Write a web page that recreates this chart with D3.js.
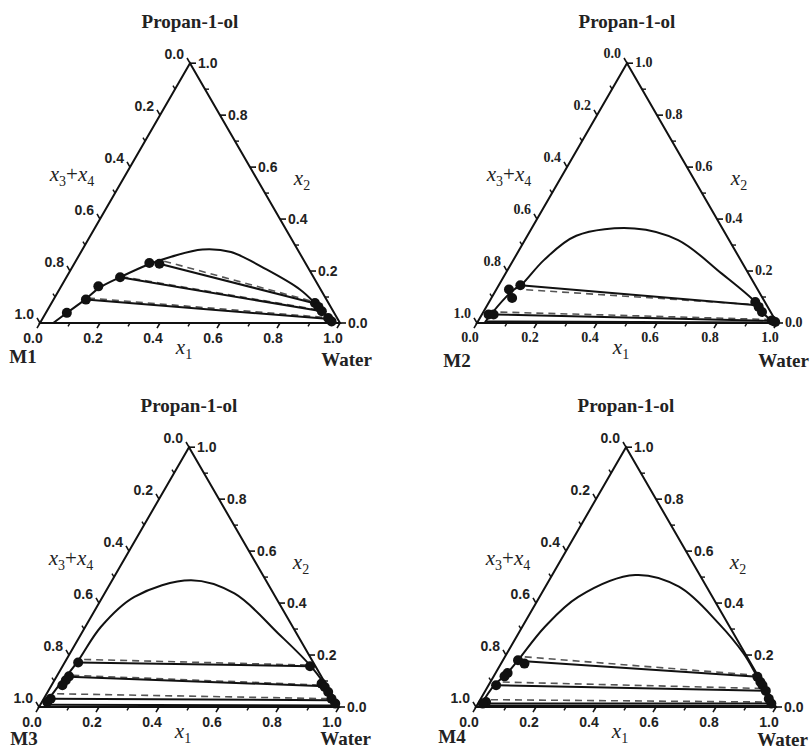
<!DOCTYPE html>
<html>
<head>
<meta charset="utf-8">
<script src="https://cdn.jsdelivr.net/npm/d3@7"></script>
<style>
  html, body { margin: 0; padding: 0; background: #fff; }
  svg { display: block; }
</style>
</head>
<body>
<svg id="chart" width="811" height="753"></svg>
<script>
// ---------------- DATA (ternary: [x1 water, x2 propan-1-ol]) ----------------
const panelNames = ["M1", "M2", "M3", "M4"];
const titleText = "Propan-1-ol";
const cornerRight = "Water";
const tickLabels = ["0.0", "0.2", "0.4", "0.6", "0.8", "1.0"];
const tickValues = [0, 0.2, 0.4, 0.6, 0.8, 1.0];
const minorValues = [0.1, 0.3, 0.5, 0.7, 0.9];

// binodal curves
const m1Binodal = [[0.044,0],[0.070,0.039],[0.105,0.090],[0.130,0.135],[0.179,0.176],[0.250,0.226],[0.310,0.255],[0.400,0.283],[0.500,0.273],[0.652,0.206],[0.802,0.129],[0.880,0.075],[0.930,0.035],[0.968,0.004]];
const m2Binodal = [[0.025,0],[0.030,0.033],[0.045,0.095],[0.060,0.130],[0.075,0.148],[0.102,0.242],[0.163,0.336],[0.343,0.364],[0.511,0.319],[0.721,0.190],[0.887,0.081],[0.946,0.030],[0.990,0.002]];
const m3Binodal = [[0.014,0.006],[0.025,0.084],[0.041,0.174],[0.052,0.308],[0.106,0.424],[0.263,0.488],[0.433,0.437],[0.656,0.283],[0.830,0.155],[0.938,0.058],[0.982,0.006]];
const m4Binodal = [[0.012,0.004],[0.019,0.084],[0.038,0.126],[0.050,0.180],[0.075,0.308],[0.129,0.424],[0.277,0.508],[0.445,0.463],[0.649,0.321],[0.790,0.205],[0.880,0.116],[0.935,0.062],[0.978,0.013]];

// experimental points
const m1Points = [[0.070,0.039],[0.108,0.090],[0.124,0.141],[0.179,0.176],[0.249,0.231],[0.284,0.228],[0.878,0.077],[0.897,0.062],[0.917,0.045],[0.951,0.019],[0.969,0.006]];
const m2Points = [[0.022,0.033],[0.039,0.033],[0.069,0.096],[0.042,0.129],[0.072,0.145],[0.887,0.081],[0.908,0.062],[0.929,0.042],[0.978,0.010],[0.992,0.004]];
const m3Points = [[0.045,0.171],[0.041,0.118],[0.038,0.103],[0.036,0.084],[0.023,0.032],[0.018,0.019],[0.825,0.157],[0.897,0.090],[0.914,0.077],[0.935,0.058],[0.959,0.032],[0.981,0.013]];
const m4Points = [[0.050,0.180],[0.078,0.167],[0.040,0.131],[0.036,0.118],[0.025,0.084],[0.024,0.019],[0.016,0.013],[0.880,0.116],[0.900,0.096],[0.913,0.084],[0.935,0.062],[0.960,0.032],[0.978,0.013]];

// experimental tie lines (solid)
const m1Ties = [[[0.284,0.228],[0.880,0.075]],[[0.179,0.176],[0.917,0.045]],[[0.108,0.090],[0.959,0.015]]];
const m2Ties = [[[0.072,0.145],[0.899,0.068]],[[0.039,0.033],[0.985,0.008]],[[0.028,0.006],[0.990,0.002]]];
const m3Ties = [[[0.045,0.171],[0.825,0.157]],[[0.042,0.116],[0.913,0.080]],[[0.023,0.032],[0.962,0.026]],[[0.018,0.009],[0.984,0.006]]];
const m4Ties = [[[0.062,0.177],[0.880,0.116]],[[0.025,0.084],[0.935,0.062]],[[0.016,0.013],[0.977,0.013]],[[0.010,0.005],[0.990,0.004]]];

// calculated tie lines (dashed)
const m1Calc = [[[0.295,0.238],[0.878,0.080]],[[0.182,0.179],[0.915,0.048]],[[0.112,0.096],[0.955,0.020]]];
const m2Calc = [[[0.100,0.128],[0.900,0.070]],[[0.057,0.042],[0.985,0.013]]];
const m3Calc = [[[0.059,0.183],[0.826,0.161]],[[0.050,0.122],[0.911,0.084]],[[0.035,0.051],[0.954,0.032]]];
const m4Calc = [[[0.066,0.193],[0.876,0.122]],[[0.041,0.096],[0.927,0.071]],[[0.036,0.028],[0.979,0.019]]];

// ---------------- LAYOUT ----------------
const panels = [
  {name: panelNames[0], origin: [40, 323], binodal: m1Binodal, points: m1Points, ties: m1Ties, calc: m1Calc, tickFont: "sans", mDx: -17, mDy: 36, wDy: 39},
  {name: panelNames[1], origin: [477, 323], binodal: m2Binodal, points: m2Points, ties: m2Ties, calc: m2Calc, tickFont: "serif", mDx: -20, mDy: 40, wDy: 40},
  {name: panelNames[2], origin: [39, 707], binodal: m3Binodal, points: m3Points, ties: m3Ties, calc: m3Calc, tickFont: "sans", mDx: -15, mDy: 34, wDy: 34},
  {name: panelNames[3], origin: [476, 707], binodal: m4Binodal, points: m4Points, ties: m4Ties, calc: m4Calc, tickFont: "sans", mDx: -24, mDy: 32, wDy: 35}
];

const SIDE = 300;
const HT = SIDE * Math.sqrt(3) / 2;
const SERIF = "'Liberation Serif','Times New Roman',serif";
const SANS = "'Liberation Sans',Arial,sans-serif";

const svg = d3.select("#chart");
svg.append("rect").attr("width", 811).attr("height", 753).attr("fill", "#fff");

const sx = d3.scaleLinear().domain([0, 1]).range([0, SIDE]);
const sy = d3.scaleLinear().domain([0, 1]).range([0, -HT]);
const proj = d => [sx(d[0] + d[1] / 2), sy(d[1])];

panels.forEach(p => {
  const g = svg.append("g").attr("transform", `translate(${p.origin[0]},${p.origin[1]})`);
  const tf = p.tickFont === "serif" ? SERIF : SANS;

  // triangle frame
  g.append("path")
    .attr("d", d3.line()([proj([0,0]), proj([1,0]), proj([0,1])]) + "Z")
    .attr("fill", "none").attr("stroke", "#111").attr("stroke-width", 2).attr("stroke-linejoin", "miter");

  const axes = [
    {pt: v => proj([v, 0]), dir: [-0.5, 0.866], lab: [-7, 16], anchor: "middle"},          // bottom: x1
    {pt: v => proj([1 - v, v]), dir: [1, 0], lab: [8, 1], anchor: "start"},                 // right: x2
    {pt: v => proj([0, 1 - v]), dir: [-0.5, -0.866], lab: [-6, -8], anchor: "end"}          // left: x3+x4
  ];
  axes.forEach(ax => {
    tickValues.forEach((v, i) => {
      const [x, y] = ax.pt(v);
      g.append("line").attr("x1", x).attr("y1", y)
        .attr("x2", x + ax.dir[0] * 6).attr("y2", y + ax.dir[1] * 6)
        .attr("stroke", "#111").attr("stroke-width", 1.6);
      g.append("text").attr("x", x + ax.lab[0]).attr("y", y + ax.lab[1])
        .attr("text-anchor", ax.anchor).attr("dominant-baseline", "middle")
        .attr("font-family", tf).attr("font-weight", "bold").attr("font-size", 14)
        .attr("fill", "#222").text(tickLabels[i]);
    });
    minorValues.forEach(v => {
      const [x, y] = ax.pt(v);
      g.append("line").attr("x1", x).attr("y1", y)
        .attr("x2", x + ax.dir[0] * 4).attr("y2", y + ax.dir[1] * 4)
        .attr("stroke", "#111").attr("stroke-width", 1.4);
    });
  });

  // calculated tie lines (dashed)
  p.calc.forEach(t => {
    g.append("path").attr("d", d3.line()(t.map(proj)))
      .attr("fill", "none").attr("stroke", "#555").attr("stroke-width", 1.6)
      .attr("stroke-dasharray", "7,5");
  });

  // binodal curve
  g.append("path")
    .attr("d", d3.line().curve(d3.curveCatmullRom.alpha(0.5))(p.binodal.map(proj)))
    .attr("fill", "none").attr("stroke", "#111").attr("stroke-width", 2);

  // experimental tie lines
  p.ties.forEach(t => {
    g.append("path").attr("d", d3.line()(t.map(proj)))
      .attr("fill", "none").attr("stroke", "#111").attr("stroke-width", 2);
  });

  // points
  g.selectAll("circle.pt").data(p.points).enter().append("circle")
    .attr("class", "pt")
    .attr("cx", d => proj(d)[0]).attr("cy", d => proj(d)[1])
    .attr("r", 5).attr("fill", "#111");

  // title
  g.append("text").attr("x", SIDE / 2).attr("y", -299)
    .attr("text-anchor", "middle").attr("dominant-baseline", "middle")
    .attr("font-family", SERIF).attr("font-weight", "bold").attr("font-size", 19)
    .attr("fill", "#222").text(titleText);

  // corner labels
  g.append("text").attr("x", p.mDx).attr("y", p.mDy)
    .attr("text-anchor", "middle").attr("dominant-baseline", "middle")
    .attr("font-family", SERIF).attr("font-weight", "bold").attr("font-size", 19)
    .attr("fill", "#222").text(p.name);
  g.append("text").attr("x", 332).attr("y", p.wDy)
    .attr("text-anchor", "end").attr("dominant-baseline", "middle")
    .attr("font-family", SERIF).attr("font-weight", "bold").attr("font-size", 19)
    .attr("fill", "#222").text(cornerRight);

  // axis titles
  const axTitle = (x, y, parts) => {
    const t = g.append("text").attr("x", x).attr("y", y).attr("text-anchor", "middle")
      .attr("font-family", SERIF).attr("font-style", "italic").attr("font-size", 21).attr("fill", "#222");
    parts.forEach(pt => {
      const ts = t.append("tspan").text(pt.t);
      if (pt.sub) ts.attr("font-size", 14).attr("dy", 5).attr("font-style", "normal");
      if (pt.up) ts.attr("dy", -5);
      if (pt.plain) ts.attr("font-style", "normal");
    });
  };
  axTitle(32, -142, [{t: "x"}, {t: "3", sub: true}, {t: "+", up: true, plain: true}, {t: "x"}, {t: "4", sub: true}]);
  axTitle(262, -138, [{t: "x"}, {t: "2", sub: true}]);
  axTitle(144, 31, [{t: "x"}, {t: "1", sub: true}]);
});
</script>
</body>
</html>
